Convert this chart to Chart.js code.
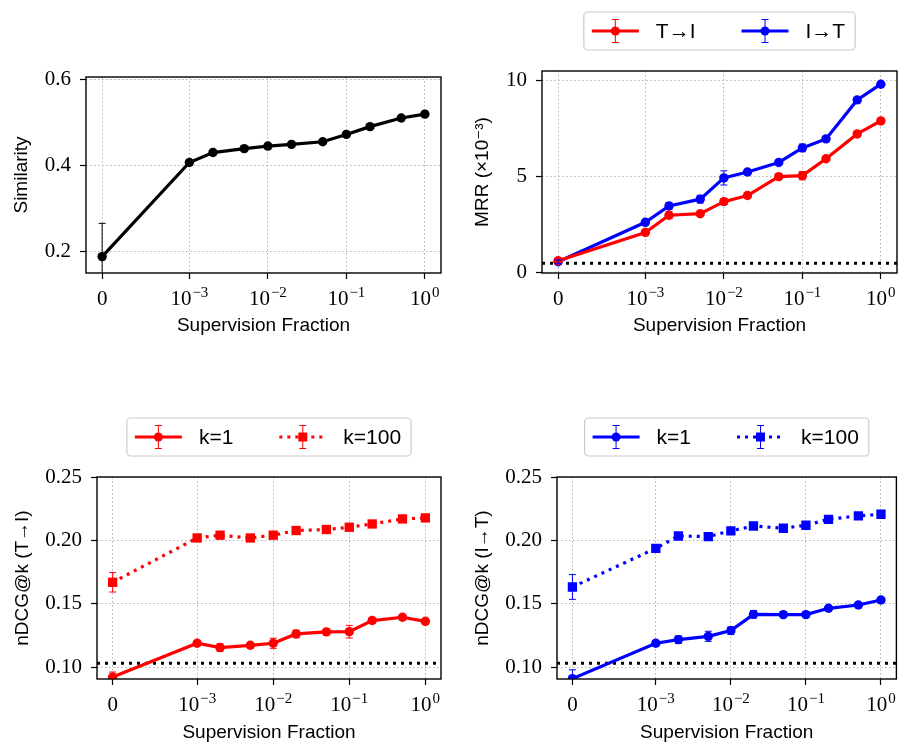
<!DOCTYPE html>
<html>
<head>
<meta charset="utf-8">
<script src="https://cdn.jsdelivr.net/npm/chart.js@4.4.0/dist/chart.umd.min.js"></script>
<style>
html, body { margin: 0; padding: 0; background: #fff; }
#wrap { position: relative; width: 903px; height: 745px; }
canvas { position: absolute; }
</style>
</head>
<body>
<div id="wrap">
  <canvas id="sim" width="451" height="372" style="left:0;top:0"></canvas>
  <canvas id="mrr" width="452" height="372" style="left:451px;top:0"></canvas>
  <canvas id="ndcgT2I" width="451" height="373" style="left:0;top:372px"></canvas>
  <canvas id="ndcgI2T" width="452" height="373" style="left:451px;top:372px"></canvas>
</div>
<script>
// supervision fractions (x) and tick labels (base + exponent)
const fractions = [0, 0.001, 0.002, 0.005, 0.01, 0.02, 0.05, 0.1, 0.2, 0.5, 1];
const tickFractions = [0, 0.001, 0.01, 0.1, 1];
const tickBases = ['0', '10', '10', '10', '10'];
const tickExps = ['', '−3', '−2', '−1', '0'];

const similarity    = [0.189, 0.407, 0.430, 0.439, 0.445, 0.449, 0.455, 0.472, 0.490, 0.510, 0.519];
const similarityErr = [0.077, 0.004, 0.003, 0.003, 0.003, 0.003, 0.003, 0.003, 0.003, 0.003, 0.003];

const mrrT2I    = [0.60, 2.08, 2.98, 3.06, 3.69, 4.01, 5.00, 5.05, 5.93, 7.23, 7.91];
const mrrT2IErr = [0.12, 0.15, 0.18, 0.10, 0.15, 0.15, 0.08, 0.22, 0.10, 0.10, 0.08];
const mrrI2T    = [0.55, 2.61, 3.46, 3.82, 4.93, 5.24, 5.74, 6.50, 6.97, 9.01, 9.83];
const mrrI2TErr = [0.10, 0.10, 0.18, 0.20, 0.37, 0.14, 0.08, 0.20, 0.10, 0.08, 0.05];
const mrrChance = 0.47;

const t2iK1     = [0.0920, 0.1188, 0.1154, 0.1172, 0.1188, 0.1262, 0.1278, 0.1280, 0.1368, 0.1394, 0.1362];
const t2iK1Err  = [0.004, 0.002, 0.003, 0.002, 0.004, 0.003, 0.002, 0.005, 0.002, 0.002, 0.002];
const t2iK100   = [0.1671, 0.2022, 0.2044, 0.2022, 0.2044, 0.2081, 0.2089, 0.2107, 0.2133, 0.2173, 0.2181];
const t2iK100Err = [0.0077, 0.002, 0.002, 0.002, 0.002, 0.002, 0.002, 0.002, 0.002, 0.002, 0.002];

const i2tK1     = [0.0908, 0.1188, 0.1217, 0.1243, 0.1288, 0.1417, 0.1415, 0.1415, 0.1465, 0.1491, 0.1531];
const i2tK1Err  = [0.007, 0.002, 0.003, 0.004, 0.003, 0.003, 0.002, 0.002, 0.002, 0.002, 0.002];
const i2tK100   = [0.1634, 0.1940, 0.2038, 0.2033, 0.2078, 0.2117, 0.2099, 0.2123, 0.2170, 0.2197, 0.2210];
const i2tK100Err = [0.0098, 0.002, 0.002, 0.002, 0.002, 0.002, 0.002, 0.002, 0.002, 0.002, 0.002];
const ndcgChance = 0.103;

const RED = '#ff0000', BLUE = '#0000ff';
const SERIF = '"Liberation Serif", "DejaVu Serif", serif';
const SANS = '"Liberation Sans", "DejaVu Sans", sans-serif';

// symlog x scale, linear below 1e-3 (like matplotlib's symlog, linscale=1)
const LIN = 1e-3, LSC = 1 / (1 - 1 / 10);
function symlog(v) {
    const a = Math.abs(v);
    const t = a <= LIN ? a / LIN * LSC : LSC + Math.log10(a / LIN);
    return v < 0 ? -t : t;
}
function symexp(t) {
    const a = Math.abs(t);
    const v = a <= LSC ? a / LSC * LIN : LIN * Math.pow(10, a - LSC);
    return t < 0 ? -v : v;
}

class SymlogScale extends Chart.LinearScale {
    determineDataLimits() {
        const {min, max} = this.getMinMax(true);
        this.min = min;
        this.max = max;
    }
    buildTicks() {
        return tickFractions.map(v => ({value: v}));
    }
    configure() {
        super.configure();
        const t0 = symlog(this.min), t1 = symlog(this.max);
        const pad = (t1 - t0) * 0.05;
        this._startValue = t0 - pad;
        this._valueRange = (t1 - t0) + 2 * pad;
    }
    getPixelForValue(v) {
        return this.getPixelForDecimal((symlog(v) - this._startValue) / this._valueRange);
    }
    getValueForPixel(p) {
        return symexp(this._startValue + this.getDecimalForPixel(p) * this._valueRange);
    }
}
SymlogScale.id = 'symlog';
SymlogScale.defaults = {};
Chart.register(SymlogScale);

// x tick labels with real superscripts
const powerTicks = {
    id: 'powerTicks',
    afterDraw(chart) {
        const ctx = chart.ctx, xs = chart.scales.x;
        const base = chart.chartArea.bottom + 31.5;
        ctx.save();
        ctx.fillStyle = '#000';
        ctx.textBaseline = 'alphabetic';
        ctx.textAlign = 'left';
        xs.ticks.forEach((t, i) => {
            const px = xs.getPixelForValue(t.value);
            ctx.font = '21px ' + SERIF;
            const wb = ctx.measureText(tickBases[i]).width;
            ctx.font = '15px ' + SERIF;
            const we = tickExps[i] ? ctx.measureText(tickExps[i]).width + 1 : 0;
            const x0 = px - (wb + we) / 2;
            ctx.font = '21px ' + SERIF;
            ctx.fillText(tickBases[i], x0, base);
            if (tickExps[i]) {
                ctx.font = '15px ' + SERIF;
                ctx.fillText(tickExps[i], x0 + wb + 1, base - 7.5);
            }
        });
        ctx.restore();
    }
};

// error bars with caps
const errorBars = {
    id: 'errorBars',
    afterDatasetsDraw(chart) {
        const ctx = chart.ctx, a = chart.chartArea;
        ctx.save();
        ctx.beginPath();
        ctx.rect(a.left, a.top, a.right - a.left, a.bottom - a.top);
        ctx.clip();
        chart.data.datasets.forEach((ds, i) => {
            if (!ds.errors) return;
            const meta = chart.getDatasetMeta(i);
            const ys = chart.scales[meta.yAxisID];
            ctx.strokeStyle = ds.borderColor;
            ctx.lineWidth = 1;
            meta.data.forEach((pt, j) => {
                const v = ds.data[j], e = ds.errors[j];
                const top = ys.getPixelForValue(v + e), bot = ys.getPixelForValue(v - e);
                ctx.beginPath();
                ctx.moveTo(pt.x, top); ctx.lineTo(pt.x, bot);
                ctx.moveTo(pt.x - 3.5, top); ctx.lineTo(pt.x + 3.5, top);
                ctx.moveTo(pt.x - 3.5, bot); ctx.lineTo(pt.x + 3.5, bot);
                ctx.stroke();
            });
        });
        ctx.restore();
    }
};

// dotted chance line + frame around the axes
const frame = {
    id: 'frame',
    beforeDatasetsDraw(chart, args, opts) {
        if (opts.chance === undefined) return;
        const ctx = chart.ctx, a = chart.chartArea;
        const y = chart.scales.y.getPixelForValue(opts.chance);
        ctx.save();
        ctx.strokeStyle = '#000';
        ctx.lineWidth = 3;
        ctx.setLineDash([3, 5]);
        ctx.beginPath();
        ctx.moveTo(a.left, y); ctx.lineTo(a.right, y);
        ctx.stroke();
        ctx.restore();
    },
    afterDatasetsDraw(chart) {
        const ctx = chart.ctx, a = chart.chartArea;
        ctx.save();
        ctx.strokeStyle = '#000';
        ctx.lineWidth = 1.4;
        ctx.strokeRect(a.left, a.top, a.right - a.left, a.bottom - a.top);
        ctx.restore();
    }
};

// matplotlib-like framed legend above the axes
const boxLegend = {
    id: 'boxLegend',
    afterDraw(chart, args, opts) {
        if (!opts.items) return;
        const ctx = chart.ctx, a = chart.chartArea;
        ctx.save();
        ctx.font = '21px ' + SANS;
        const widths = opts.items.map(it => ctx.measureText(it.label).width);
        const handle = 47, gapT = 17, col = 46;
        const w = 8 + 2 * (handle + gapT) + widths[0] + col + widths[1] + 10;
        const h = 38;
        const x0 = (a.left + a.right) / 2 - w / 2, y0 = a.top - 21 - h;
        ctx.beginPath();
        ctx.roundRect(x0, y0, w, h, 4);
        ctx.fillStyle = 'rgba(255,255,255,0.8)';
        ctx.fill();
        ctx.strokeStyle = '#cccccc';
        ctx.lineWidth = 1.2;
        ctx.stroke();
        let x = x0 + 8;
        const cy = y0 + h / 2;
        opts.items.forEach((it, i) => {
            const ds = chart.data.datasets[it.dataset];
            const mx = x + handle / 2;
            ctx.strokeStyle = ds.borderColor;
            ctx.lineWidth = ds.borderWidth;
            ctx.setLineDash(ds.borderDash || []);
            ctx.beginPath();
            ctx.moveTo(x, cy); ctx.lineTo(x + handle, cy);
            ctx.stroke();
            ctx.setLineDash([]);
            ctx.lineWidth = 1;
            ctx.beginPath();
            ctx.moveTo(mx, cy - 11.5); ctx.lineTo(mx, cy + 11.5);
            ctx.moveTo(mx - 3.5, cy - 11.5); ctx.lineTo(mx + 3.5, cy - 11.5);
            ctx.moveTo(mx - 3.5, cy + 11.5); ctx.lineTo(mx + 3.5, cy + 11.5);
            ctx.stroke();
            ctx.fillStyle = ds.borderColor;
            ctx.beginPath();
            if (ds.pointStyle === 'rect') {
                ctx.rect(mx - 4.5, cy - 4.5, 9, 9);
            } else {
                ctx.arc(mx, cy, 4.5, 0, Math.PI * 2);
            }
            ctx.fill();
            ctx.fillStyle = '#000';
            ctx.textBaseline = 'middle';
            ctx.fillText(it.label, x + handle + gapT, cy + 1);
            x += handle + gapT + widths[i] + col;
        });
        ctx.restore();
    }
};

function series(label, values, errors, color, dotted) {
    return {
        label: label,
        data: values,
        errors: errors,
        borderColor: color,
        backgroundColor: color,
        borderWidth: 3.2,
        borderDash: dotted ? [3, 5] : [],
        pointStyle: dotted ? 'rect' : 'circle',
        pointRadius: dotted ? 6.6 : 4.7,
        pointBorderWidth: 0,
        pointBackgroundColor: color,
        tension: 0,
        clip: 0
    };
}

function makeChart(id, datasets, opt) {
    return new Chart(document.getElementById(id), {
        type: 'line',
        data: { labels: fractions, datasets: datasets },
        plugins: [frame, errorBars, boxLegend, powerTicks],
        options: {
            responsive: false,
            animation: false,
            devicePixelRatio: 1,
            events: [],
            layout: { padding: opt.padding },
            plugins: {
                legend: { display: false },
                tooltip: { enabled: false },
                frame: { chance: opt.chance },
                boxLegend: { items: opt.legend }
            },
            scales: {
                x: {
                    type: 'symlog',
                    grid: { color: '#b0b0b0', lineWidth: 1, tickColor: '#000', tickLength: 6, tickWidth: 1.2 },
                    border: { display: false, dash: [1.5, 2.5] },
                    ticks: { display: false },
                    title: {
                        display: true, text: 'Supervision Fraction', color: '#000',
                        font: { family: SANS, size: 19, lineHeight: 1.2 }, padding: 0
                    },
                    afterFit: s => { s.height = opt.xHeight; }
                },
                y: {
                    min: opt.yMin, max: opt.yMax,
                    afterBuildTicks: s => { s.ticks = opt.yTicks.map(v => ({value: v})); },
                    grid: { color: '#b0b0b0', lineWidth: 1, tickColor: '#000', tickLength: 6, tickWidth: 1.2 },
                    border: { display: false, dash: [1.5, 2.5] },
                    ticks: {
                        padding: 9, color: '#000', font: { family: SERIF, size: 21 },
                        callback: v => v.toFixed(opt.digits)
                    },
                    title: {
                        display: true, text: opt.yTitle, color: '#000',
                        font: { family: SANS, size: 19, lineHeight: 1.2 }, padding: 0
                    },
                    afterFit: s => { s.width = opt.yWidth; }
                }
            }
        }
    });
}

makeChart('sim', [series('Similarity', similarity, similarityErr, '#000', false)], {
    padding: { left: 10.6, right: 10, top: 77, bottom: 35 },
    yWidth: 75.4, xHeight: 64,
    yMin: 0.151, yMax: 0.605, yTicks: [0.2, 0.4, 0.6], digits: 1,
    yTitle: 'Similarity'
});

makeChart('mrr', [
    series('T→I', mrrT2I, mrrT2IErr, RED, false),
    series('I→T', mrrI2T, mrrI2TErr, BLUE, false)
], {
    padding: { left: 20.6, right: 6, top: 71, bottom: 35 },
    yWidth: 70.4, xHeight: 64,
    yMin: -0.04, yMax: 10.52, yTicks: [0, 5, 10], digits: 0,
    yTitle: 'MRR (×10⁻³)', chance: mrrChance,
    legend: [{label: 'T→I', dataset: 0}, {label: 'I→T', dataset: 1}]
});

makeChart('ndcgT2I', [
    series('k=1', t2iK1, t2iK1Err, RED, false),
    series('k=100', t2iK100, t2iK100Err, RED, true)
], {
    padding: { left: 11.6, right: 10, top: 105, bottom: 1 },
    yWidth: 85.4, xHeight: 65,
    yMin: 0.0905, yMax: 0.2505, yTicks: [0.10, 0.15, 0.20, 0.25], digits: 2,
    yTitle: 'nDCG@k (T→I)', chance: ndcgChance,
    legend: [{label: 'k=1', dataset: 0}, {label: 'k=100', dataset: 1}]
});

makeChart('ndcgI2T', [
    series('k=1', i2tK1, i2tK1Err, BLUE, false),
    series('k=100', i2tK100, i2tK100Err, BLUE, true)
], {
    padding: { left: 20.6, right: 3, top: 105, bottom: 1 },
    yWidth: 85.4, xHeight: 65,
    yMin: 0.0905, yMax: 0.2505, yTicks: [0.10, 0.15, 0.20, 0.25], digits: 2,
    yTitle: 'nDCG@k (I→T)', chance: ndcgChance,
    legend: [{label: 'k=1', dataset: 0}, {label: 'k=100', dataset: 1}]
});
</script>
</body>
</html>
